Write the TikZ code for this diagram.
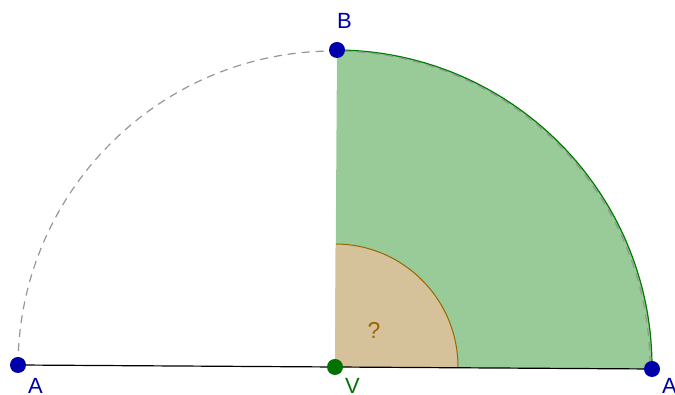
\documentclass[tikz,border=0pt]{standalone}
\usepackage{fontspec}
\setmainfont{Liberation Sans}
\usetikzlibrary{calc}
\definecolor{ptblue}{RGB}{0,0,170}
\definecolor{ptgreen}{RGB}{0,115,0}
\definecolor{secgreen}{RGB}{153,203,153}
\definecolor{arcgreen}{RGB}{0,125,0}
\definecolor{tanfill}{RGB}{214,194,154}
\definecolor{tanline}{RGB}{153,102,0}
\definecolor{dashgray}{RGB}{150,150,150}
\begin{document}
\begin{tikzpicture}[x=1pt,y=1pt,
  dot/.style={circle,inner sep=0pt,minimum size=16pt},
  lbl/.style={font=\fontsize{22}{22}\selectfont, inner sep=0pt},
  baseln/.style={line width=1.2pt, black}]
\useasboundingbox (0,0) rectangle (675,395);
\clip (0,0) rectangle (675,395);
\coordinate (V) at (335,28);
\coordinate (A) at (18,30);
\coordinate (A2) at (652,26);
\coordinate (B) at (337,345);
\coordinate (S) at ($(V)+(89.64:123)$);
% green sector
\fill[secgreen] (V) -- (B) arc[start angle=89.64, end angle=-0.36, radius=317] -- cycle;
% small angle sector
\fill[tanfill] (V) -- (S) arc[start angle=89.64, end angle=-0.36, radius=123] -- cycle;
\draw[tanline, line width=1pt] (S) arc[start angle=89.64, end angle=-0.36, radius=123];
% green arc
\draw[arcgreen, line width=1.2pt] (B) arc[start angle=89.64, end angle=-0.36, radius=317];
% dashed semicircle
\draw[dashgray, line width=1.2pt, dash pattern=on 8pt off 6pt] ($(A)+(0,0)$) arc[start angle=179.64, end angle=-0.36, radius=316];
% base line
\draw[baseln] (A) -- (A2);
% points
\node[dot, fill=ptblue] (pA) at (A) {};
\node[dot, fill=ptblue] (pA2) at (A2) {};
\node[dot, fill=ptblue] (pB) at (B) {};
\node[dot, fill=ptgreen] (pV) at (V) {};
% labels
\node[lbl, text=ptblue, anchor=north west] (lA) at (28,17) {A};
\node[lbl, text=ptblue, anchor=north west] (lA2) at (662,17) {A'};
\node[lbl, text=ptblue, anchor=south west] (lB) at (337,366) {B};
\node[lbl, text=ptgreen, anchor=north west] (lV) at (345,17) {V};
\node[lbl, text=tanline, font=\fontsize{23}{23}\selectfont] (q) at (374,65) {?};
\end{tikzpicture}
\end{document}
